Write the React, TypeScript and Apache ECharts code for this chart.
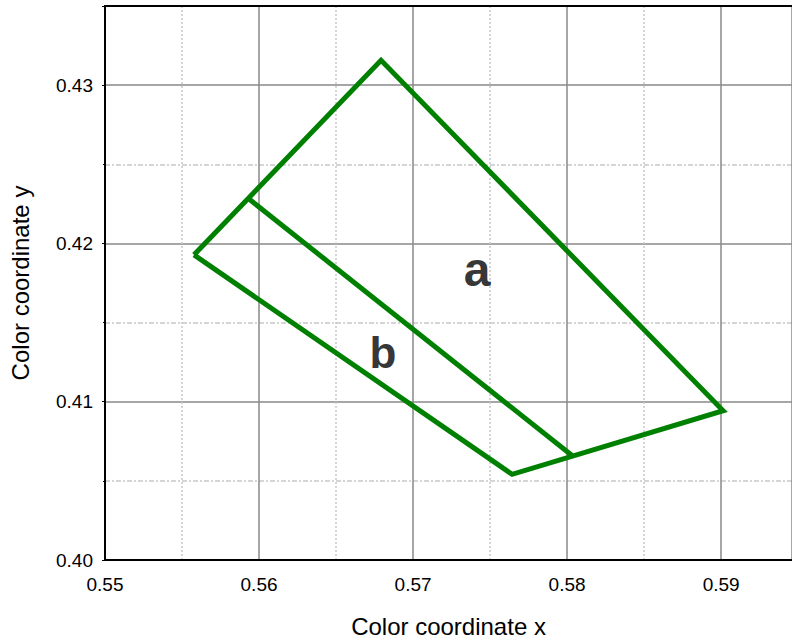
import React, { useEffect, useRef } from "react";
import * as echarts from "echarts";

const outlineA: [number, number][] = [
  [0.55578, 0.41928],
  [0.56792, 0.43157],
  [0.59013, 0.40943],
  [0.57643, 0.40541],
  [0.55578, 0.41928],
];
const lineB: [number, number][] = [
  [0.55937, 0.42279],
  [0.58032, 0.40660],
];
const labelPoints = [
  { name: "a", value: [0.57416, 0.41836], size: 48 },
  { name: "b", value: [0.56805, 0.41314], size: 44 },
];
const xName = "Color coordinate x";
const yName = "Color coordinate y";

export default function App() {
  const ref = useRef<HTMLDivElement>(null);
  useEffect(() => {
    if (!ref.current) return;
    const chart = echarts.init(ref.current, null, { renderer: "svg" });
    const font = "Liberation Sans, Arial, sans-serif";
    chart.setOption({
      animation: false,
      grid: { left: 105, right: 0, top: 6, bottom: 80 },
      xAxis: [
        {
          type: "value",
          min: 0.55,
          max: 0.5946,
          interval: 0.01,
          name: xName,
          nameLocation: "middle",
          nameGap: 54,
          nameTextStyle: { fontFamily: font, fontSize: 24, color: "#000" },
          axisLine: { show: true, lineStyle: { color: "#000", width: 2 } },
          axisTick: { show: false },
          axisLabel: {
            fontFamily: font,
            fontSize: 19,
            color: "#000",
            margin: 15,
            showMaxLabel: false,
            formatter: (v: number) => v.toFixed(2),
          },
          splitLine: { show: true, lineStyle: { color: "#888", width: 1.5 } },
          minorTick: { show: false, splitNumber: 2 },
          minorSplitLine: {
            show: true,
            lineStyle: { color: "#c8c8c8", width: 1.5, type: [2, 2] },
          },
        },
        {
          type: "value",
          position: "top",
          min: 0.55,
          max: 0.5946,
          axisLine: { show: true, onZero: false, lineStyle: { color: "#000", width: 2 } },
          axisTick: { show: false },
          axisLabel: { show: false },
          splitLine: { show: false },
        },
      ],
      yAxis: {
        type: "value",
        min: 0.4,
        max: 0.435,
        interval: 0.01,
        name: yName,
        nameLocation: "middle",
        nameGap: 73,
        nameTextStyle: { fontFamily: font, fontSize: 24, color: "#000" },
        axisLine: { show: true, lineStyle: { color: "#000", width: 2 } },
        axisTick: { show: true, length: 3, lineStyle: { color: "#000" } },
        minorTick: { show: true, splitNumber: 2, length: 2, lineStyle: { color: "#000" } },
        axisLabel: {
          fontFamily: font,
          fontSize: 19,
          color: "#000",
          margin: 12,
          showMaxLabel: false,
          formatter: (v: number) => v.toFixed(2),
        },
        splitLine: { show: true, lineStyle: { color: "#888", width: 1.5 } },
        minorSplitLine: {
          show: true,
          lineStyle: { color: "#c8c8c8", width: 1.5, type: [5, 2, 2, 2] },
        },
      },
      series: [
        {
          type: "line",
          data: outlineA,
          showSymbol: false,
          symbol: "none",
          lineStyle: { color: "#008000", width: 5, join: "miter" },
          z: 3,
        },
        {
          type: "line",
          data: lineB,
          showSymbol: false,
          symbol: "none",
          lineStyle: { color: "#008000", width: 5 },
          z: 3,
        },
        {
          type: "scatter",
          data: labelPoints.map((p) => ({
            name: p.name,
            value: p.value,
            label: { fontSize: p.size },
          })),
          symbolSize: 0,
          label: {
            show: true,
            position: "inside",
            formatter: "{b}",
            fontFamily: font,
            fontWeight: "bold",
            color: "#000",
            textBorderWidth: 0,
          },
          z: 4,
        },
      ],
    });
    return () => chart.dispose();
  }, []);
  return <div ref={ref} style={{ width: 792, height: 643, position: "absolute", left: 0, top: 0 }} />;
}
